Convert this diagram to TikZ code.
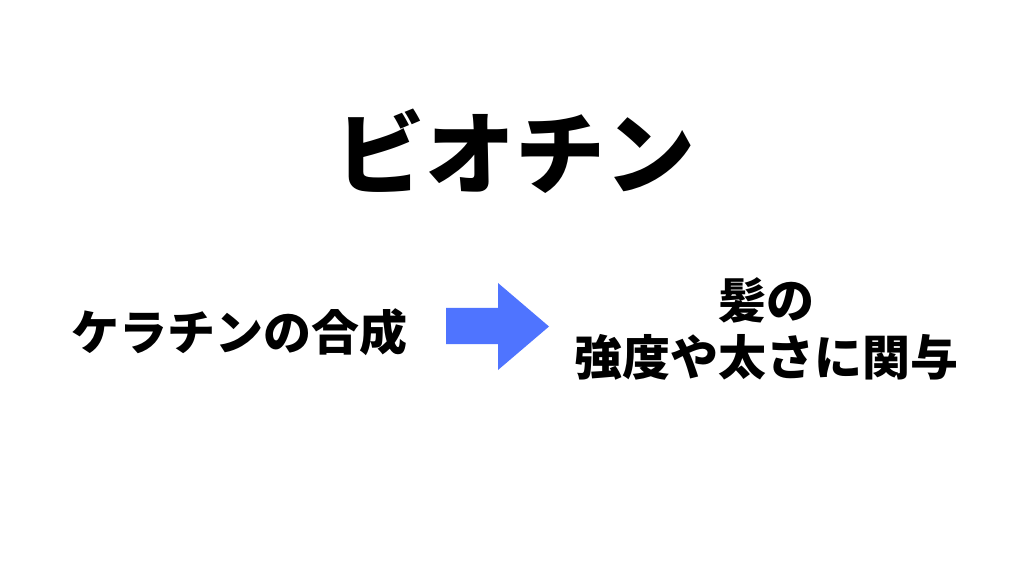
\documentclass[tikz,border=0pt]{standalone}
\usepackage{fontspec}
\newfontfamily\cjk{Noto Sans CJK JP}
\definecolor{arrowblue}{RGB}{79,116,255}
\begin{document}
\begin{tikzpicture}[x=1pt,y=1pt,
  title/.style={font=\cjk\bfseries\fontsize{90}{100}\selectfont, inner sep=0pt},
  body/.style={font=\cjk\bfseries\fontsize{48}{57}\selectfont, inner sep=0pt, align=center}]
\useasboundingbox (0,0) rectangle (1024,576);
\fill[white] (0,0) rectangle (1024,576);
\node[title] (t) at (515,576-151) {ビオチン};
\node[body] (l) at (239,576-332) {ケラチンの合成};
\node[body] (r) at (766,576-329) {髪の\\強度や太さに関与};
\fill[arrowblue] (446,576-308) -- (498,576-308) -- (498,576-283) -- (549,576-326.5)
  -- (498,576-370) -- (498,576-344) -- (446,576-344) -- cycle;
\end{tikzpicture}
\end{document}
